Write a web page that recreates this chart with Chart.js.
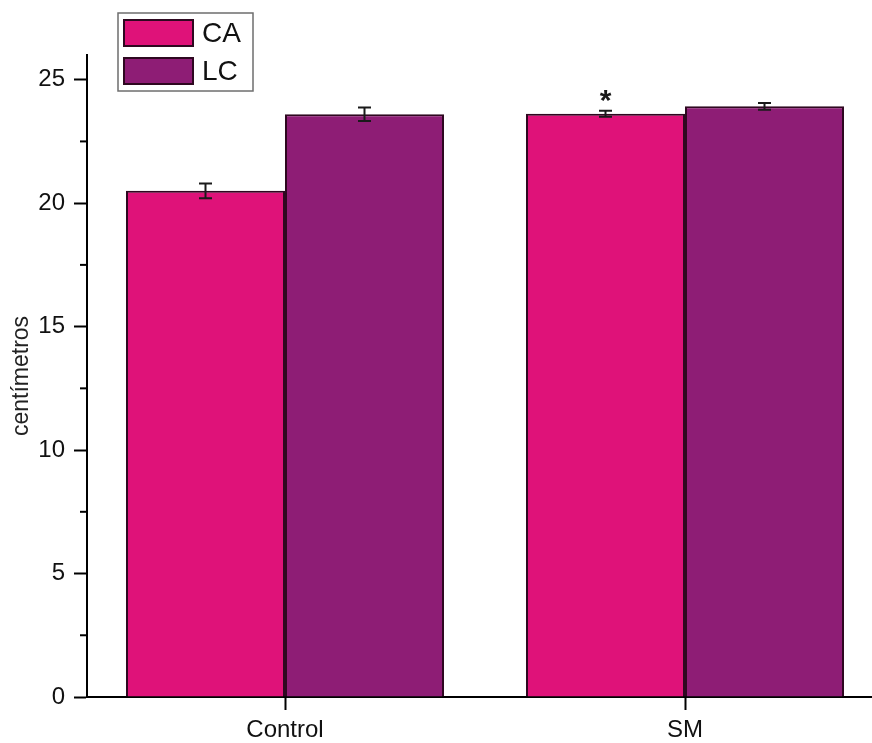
<!DOCTYPE html>
<html>
<head>
<meta charset="utf-8">
<script src="https://cdn.jsdelivr.net/npm/chart.js@4"></script>
<style>
  html, body { margin: 0; padding: 0; background: #fff; }
  #wrap { width: 872px; height: 743px; }
</style>
</head>
<body>
<div id="wrap"><canvas id="lengthChart"></canvas></div>
<script>
const categories = ['Control', 'SM'];
const caValues = [20.5, 23.62];
const lcValues = [23.6, 23.92];
const caErrors = [0.3, 0.12];
const lcErrors = [0.27, 0.14];
const caMarks = ['', '*'];
const lcMarks = ['', ''];

const FONT = '"Liberation Sans", Arial, sans-serif';

// error bars + significance marks
const errorBars = {
  id: 'errorBars',
  afterDatasetsDraw(chart) {
    const ctx = chart.ctx;
    const y = chart.scales.y;
    chart.data.datasets.forEach((ds, i) => {
      const meta = chart.getDatasetMeta(i);
      meta.data.forEach((bar, j) => {
        const v = ds.data[j].y;
        const e = ds.errors[j];
        const top = y.getPixelForValue(v + e);
        const bot = y.getPixelForValue(v - e);
        ctx.save();
        ctx.strokeStyle = '#1a1a1a';
        ctx.lineWidth = 2;
        ctx.beginPath();
        ctx.moveTo(bar.x, top); ctx.lineTo(bar.x, bot);
        ctx.moveTo(bar.x - 6.5, top); ctx.lineTo(bar.x + 6.5, top);
        ctx.moveTo(bar.x - 6.5, bot); ctx.lineTo(bar.x + 6.5, bot);
        ctx.stroke();
        if (ds.marks[j]) {
          ctx.fillStyle = '#1a1a1a';
          ctx.font = 'bold 30px ' + FONT;
          ctx.textAlign = 'center';
          ctx.textBaseline = 'alphabetic';
          ctx.fillText(ds.marks[j], bar.x, top - 1);
        }
        ctx.restore();
      });
    });
  }
};

// minor ticks on the y axis
const minorTicks = {
  id: 'minorTicks',
  afterDraw(chart) {
    const ctx = chart.ctx;
    const y = chart.scales.y;
    const left = chart.chartArea.left;
    ctx.save();
    ctx.strokeStyle = '#000';
    ctx.lineWidth = 2;
    for (let v = 2.5; v < y.max; v += 5) {
      const py = y.getPixelForValue(v);
      ctx.beginPath();
      ctx.moveTo(left - 7, py); ctx.lineTo(left, py);
      ctx.stroke();
    }
    ctx.restore();
  }
};

// boxed legend sitting in the top left of the plot
const boxLegend = {
  id: 'boxLegend',
  afterDraw(chart) {
    const ctx = chart.ctx;
    const x0 = 118, y0 = 13, w = 135, h = 78;
    ctx.save();
    ctx.fillStyle = '#fff';
    ctx.fillRect(x0, y0, w, h);
    ctx.strokeStyle = '#6e6e6e';
    ctx.lineWidth = 1.5;
    ctx.strokeRect(x0, y0, w, h);
    chart.data.datasets.forEach((ds, i) => {
      const sy = y0 + 7 + i * 38;
      ctx.fillStyle = ds.backgroundColor;
      ctx.fillRect(x0 + 6, sy, 69, 26);
      ctx.strokeStyle = ds.borderColor;
      ctx.lineWidth = 2;
      ctx.strokeRect(x0 + 6, sy, 69, 26);
      ctx.fillStyle = '#111';
      ctx.font = '28px ' + FONT;
      ctx.textAlign = 'left';
      ctx.textBaseline = 'middle';
      ctx.fillText(ds.label, x0 + 84, sy + 14);
    });
    ctx.restore();
  }
};

new Chart(document.getElementById('lengthChart'), {
  type: 'bar',
  data: {
    datasets: [{
      label: 'CA',
      data: caValues.map((v, i) => ({ x: i, y: v })),
      errors: caErrors,
      marks: caMarks,
      backgroundColor: '#DF1279',
      borderColor: '#2e0820',
      borderWidth: 2,
      barPercentage: 1,
      categoryPercentage: 0.795
    }, {
      label: 'LC',
      data: lcValues.map((v, i) => ({ x: i, y: v })),
      errors: lcErrors,
      marks: lcMarks,
      backgroundColor: '#8E1D75',
      borderColor: '#2e0820',
      borderWidth: 2,
      barPercentage: 1,
      categoryPercentage: 0.795
    }]
  },
  options: {
    responsive: true,
    maintainAspectRatio: false,
    animation: false,
    layout: { padding: { top: 55, right: 0, bottom: 0, left: 0 } },
    plugins: {
      legend: { display: false },
      tooltip: { enabled: false }
    },
    scales: {
      x: {
        type: 'linear',
        min: -0.495,
        max: 1.4675,
        offset: false,
        afterFit(scale) { scale.height = 46; },
        border: { color: '#000', width: 2 },
        grid: { offset: false, drawOnChartArea: false, tickLength: 13, tickWidth: 2, tickColor: '#000' },
        ticks: {
          stepSize: 1,
          includeBounds: false,
          padding: 6,
          color: '#111',
          font: { family: FONT, size: 24 },
          callback: v => categories[v] ?? ''
        }
      },
      y: {
        min: 0,
        max: 26,
        afterFit(scale) { scale.width = 87; },
        border: { color: '#000', width: 2 },
        grid: { drawOnChartArea: false, tickLength: 13, tickWidth: 2, tickColor: '#000' },
        ticks: {
          stepSize: 5,
          includeBounds: false,
          padding: 9,
          color: '#111',
          font: { family: FONT, size: 24 }
        },
        title: {
          display: true,
          text: 'centímetros',
          color: '#222',
          padding: { top: 8, bottom: 0 },
          font: { family: FONT, size: 23 }
        }
      }
    }
  },
  plugins: [errorBars, minorTicks, boxLegend]
});
</script>
</body>
</html>
